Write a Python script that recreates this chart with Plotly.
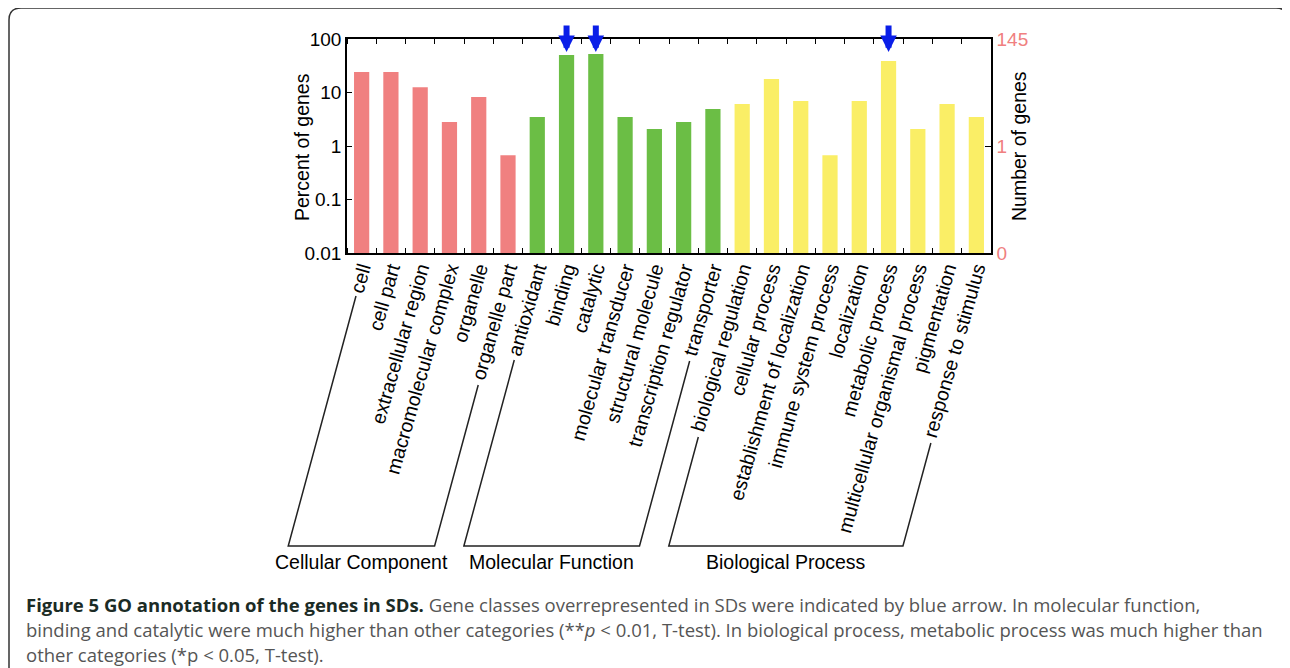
import plotly.graph_objects as go

# ---------------- data ----------------
categories = [
    "cell", "cell part", "extracellular region", "macromolecular complex",
    "organelle", "organelle part",
    "antioxidant", "binding", "catalytic", "molecular transducer",
    "structural molecule", "transcription regulator", "transporter",
    "biological regulation", "cellular process", "establishment of localization",
    "immune system process", "localization", "metabolic process",
    "multicellular organismal process", "pigmentation", "response to stimulus",
]
percent_genes = [
    24.1, 24.1, 12.6, 2.8, 8.2, 0.67,
    3.5, 50.0, 52.4, 3.5, 2.07, 2.8, 4.9,
    6.1, 17.8, 6.9, 0.67, 6.9, 38.7, 2.07, 6.1, 3.5,
]
group_names = ["Cellular Component", "Molecular Function", "Biological Process"]
group_sizes = [6, 7, 9]
group_colors = ["#F08080", "#6BBE45", "#FAEE66"]
arrow_categories = ["binding", "catalytic", "metabolic process"]

left_tickvals = [0.01, 0.1, 1, 10, 100]
left_ticktext = ["0.01", "0.1", "1", "10", "100"]
right_tickvals = [0.01, 1, 100]
right_ticktext = ["0", "1", "145"]

caption_lines = [
    "<b><span style='color:#1b2b25'>Figure 5 GO annotation of the genes in SDs.</span></b> "
    "Gene classes overrepresented in SDs were indicated by blue arrow. In molecular function,",
    "binding and catalytic were much higher than other categories (**<i>p</i> &lt; 0.01, T-test). "
    "In biological process, metabolic process was much higher than",
    "other categories (*p &lt; 0.05, T-test).",
]

# ---------------- layout geometry (page px) ----------------
W, H = 1290, 668
OFF = 8                                  # default page body margin
L, R, T, B = 347, 991, 39, 253           # plot area in page px
PW, PH = R - L, B - T
n = len(categories)
cat_px = PW / n
COT = 0.271                              # slope of rotated labels

def xp(px):
    return (px - L) / PW

def yp(py):
    return (B - py) / PH

def tick_px(i):
    return L + (i + 0.5) * cat_px

colors = []
for g, s in enumerate(group_sizes):
    colors += [group_colors[g]] * s

x_idx = list(range(n))
fig = go.Figure()
fig.add_trace(go.Bar(x=x_idx, y=percent_genes, marker_color=colors,
                     marker_line_width=0, width=0.52, showlegend=False,
                     hoverinfo="skip"))
fig.add_trace(go.Scatter(x=[None], y=[None], yaxis="y2", showlegend=False,
                         hoverinfo="skip"))

FONT = "Liberation Sans, Arial, Helvetica, sans-serif"
fs = 19.5
fs_cat = 19.6
fs_num = 19

fig.update_layout(
    width=W - OFF, height=H - OFF,
    margin=dict(l=L - OFF, r=W - R, t=T - OFF, b=H - B, pad=0),
    paper_bgcolor="white", plot_bgcolor="white",
    font=dict(family=FONT, size=fs, color="black"),
    xaxis=dict(
        range=[-0.5, n - 0.5], tickvals=x_idx, ticktext=categories,
        tickangle=-74, ticks="", showgrid=False, zeroline=False,
        showline=True, linecolor="black", linewidth=1.5, mirror="ticks",
        tickfont=dict(size=fs_cat),
        minor=dict(tickvals=[i + 0.5 for i in range(-1, n)], ticks="inside",
                   ticklen=5, tickcolor="black", tickwidth=1.2, showgrid=False),
    ),
    yaxis=dict(
        type="log", range=[-2, 2], tickvals=left_tickvals, ticktext=left_ticktext,
        ticks="inside", ticklen=5, tickcolor="black", showgrid=False,
        zeroline=False, showline=True, linecolor="black", linewidth=1.5,
        tickfont=dict(size=fs_num),
    ),
    yaxis2=dict(
        type="log", range=[-2, 2], overlaying="y", side="right",
        tickvals=right_tickvals, ticktext=right_ticktext,
        ticks="inside", ticklen=6, tickcolor="black", showgrid=False,
        zeroline=False, showline=True, linecolor="black", linewidth=1.5,
        tickfont=dict(size=fs_num, color="#F08080"),
    ),
)
try:
    fig.update_xaxes(ticklabelstandoff=-5)
except Exception:
    pass

annotations = []
shapes = []

# axis titles
annotations.append(dict(text="Percent of genes", xref="paper", yref="paper",
                        x=xp(302), y=yp(147), textangle=-90, showarrow=False,
                        font=dict(size=fs), xanchor="center", yanchor="middle"))
annotations.append(dict(text="Number of genes", xref="paper", yref="paper",
                        x=xp(1019), y=yp(146), textangle=-90, showarrow=False,
                        font=dict(size=fs), xanchor="center", yanchor="middle"))

# arrows over over-represented classes
for c in arrow_categories:
    annotations.append(dict(text="", x=categories.index(c), xref="x",
                            y=yp(52), yref="paper", ax=0, ay=-28,
                            showarrow=True, arrowhead=2, arrowsize=0.55,
                            arrowwidth=6, arrowcolor="#0a1ee8"))

# group brackets
bracket_tops = [(296, 385), (360, 361), (437, 443)]
bottom_py = 546
LOFF = 6
start = 0
for g, s in enumerate(group_sizes):
    i0, i1 = start, start + s - 1
    t0, t1 = bracket_tops[g]
    x_top0 = tick_px(i0) - (t0 - B) * COT + LOFF
    x_bot0 = tick_px(i0) - (bottom_py - B) * COT + LOFF
    x_top1 = tick_px(i1) - (t1 - B) * COT + LOFF
    x_bot1 = tick_px(i1) - (bottom_py - B) * COT + LOFF
    path = (f"M {xp(x_top0)},{yp(t0)} L {xp(x_bot0)},{yp(bottom_py)} "
            f"L {xp(x_bot1)},{yp(bottom_py)} L {xp(x_top1)},{yp(t1)}")
    shapes.append(dict(type="path", path=path, xref="paper", yref="paper",
                       line=dict(color="#222222", width=1.5)))
    annotations.append(dict(text=group_names[g], xref="paper", yref="paper",
                            x=xp((x_bot0 + x_bot1) / 2), y=yp(562),
                            showarrow=False, xanchor="center", yanchor="middle",
                            font=dict(size=fs)))
    start += s

# outer frame
r = 12
fx0, fy0, fx1, fy1 = 9, 8, 1288, 700
frame = (f"M {xp(fx0)},{yp(fy1)} L {xp(fx0)},{yp(fy0 + r)} "
         f"Q {xp(fx0)},{yp(fy0)} {xp(fx0 + r)},{yp(fy0)} "
         f"L {xp(fx1 - r)},{yp(fy0)} Q {xp(fx1)},{yp(fy0)} {xp(fx1)},{yp(fy0 + r)} "
         f"L {xp(fx1)},{yp(fy1)}")
shapes.append(dict(type="path", path=frame, xref="paper", yref="paper",
                   line=dict(color="#333333", width=1.5)))

# caption
for k, line in enumerate(caption_lines):
    annotations.append(dict(text=line, xref="paper", yref="paper",
                            x=xp(24), y=yp(604 + 25 * k), showarrow=False,
                            xanchor="left", yanchor="middle", align="left",
                            font=dict(family="Open Sans, sans-serif", size=18.5,
                                      color="#555555")))

fig.update_layout(annotations=annotations, shapes=shapes)
fig.write_html("out.html")
